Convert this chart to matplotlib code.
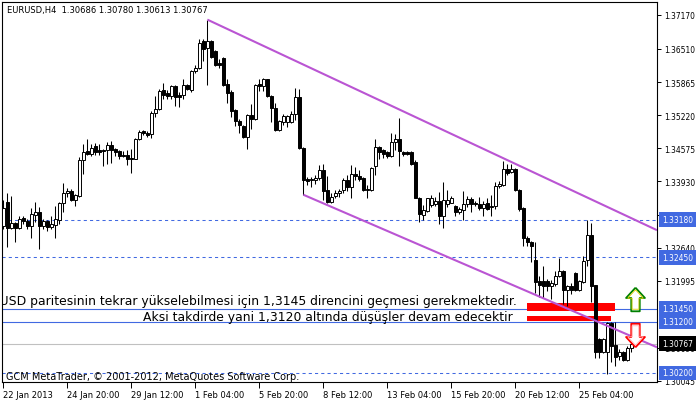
import matplotlib.pyplot as plt
from matplotlib.path import Path
from matplotlib.transforms import blended_transform_factory

# EURUSD H4 candles (bar 0 = 22 Jan 2013)
opens = [1.3307, 1.3353, 1.3302, 1.3312, 1.3302, 1.3322, 1.3316, 1.3306, 1.3328, 1.3334,
         1.3306, 1.3316, 1.3304, 1.3308, 1.3318, 1.3351, 1.3370, 1.3374, 1.3357, 1.3364,
         1.3435, 1.3452, 1.3447, 1.3462, 1.3454, 1.3454, 1.3454, 1.3464, 1.3456, 1.3452,
         1.3445, 1.3445, 1.3439, 1.3437, 1.3476, 1.3491, 1.3487, 1.3486, 1.3526, 1.3534,
         1.3571, 1.3565, 1.3559, 1.3578, 1.3561, 1.3561, 1.3580, 1.3571, 1.3608, 1.3614,
         1.3667, 1.3653, 1.3667, 1.3647, 1.3624, 1.3633, 1.3583, 1.3567, 1.3532, 1.3510,
         1.3501, 1.3480, 1.3522, 1.3514, 1.3583, 1.3579, 1.3592, 1.3559, 1.3536, 1.3493,
         1.3508, 1.3508, 1.3508, 1.3524, 1.3557, 1.3458, 1.3398, 1.3396, 1.3396, 1.3400,
         1.3415, 1.3376, 1.3353, 1.3365, 1.3371, 1.3376, 1.3396, 1.3382, 1.3408, 1.3404,
         1.3400, 1.3376, 1.3376, 1.3423, 1.3460, 1.3454, 1.3450, 1.3443, 1.3470, 1.3476,
         1.3450, 1.3450, 1.3450, 1.3431, 1.3361, 1.3328, 1.3335, 1.3347, 1.3349, 1.3355,
         1.3326, 1.3349, 1.3351, 1.3345, 1.3333, 1.3337, 1.3349, 1.3359, 1.3351, 1.3349,
         1.3341, 1.3351, 1.3343, 1.3345, 1.3384, 1.3386, 1.3417, 1.3411, 1.3417, 1.3376,
         1.3341, 1.3283, 1.3275, 1.3240, 1.3199, 1.3199, 1.3199, 1.3189, 1.3193, 1.3209,
         1.3219, 1.3182, 1.3189, 1.3215, 1.3182, 1.3197, 1.3240, 1.3289, 1.3191, 1.3086,
         1.3061, 1.3061, 1.3118, 1.3075, 1.3053, 1.3061, 1.3045, 1.30686]
highs = [1.3357, 1.3370, 1.3364, 1.3314, 1.3326, 1.3326, 1.3320, 1.3341, 1.3353, 1.3343,
         1.3320, 1.3318, 1.3326, 1.3345, 1.3353, 1.3390, 1.3380, 1.3378, 1.3368, 1.3441,
         1.3466, 1.3476, 1.3466, 1.3468, 1.3466, 1.3456, 1.3470, 1.3472, 1.3458, 1.3454,
         1.3452, 1.3454, 1.3456, 1.3478, 1.3493, 1.3493, 1.3491, 1.3530, 1.3559, 1.3573,
         1.3584, 1.3571, 1.3580, 1.3580, 1.3567, 1.3592, 1.3582, 1.3610, 1.3620, 1.3670,
         1.3670, 1.3708, 1.3669, 1.3649, 1.3631, 1.3635, 1.3592, 1.3571, 1.3534, 1.3514,
         1.3503, 1.3524, 1.3543, 1.3583, 1.3592, 1.3594, 1.3592, 1.3561, 1.3545, 1.3512,
         1.3524, 1.3522, 1.3530, 1.3575, 1.3573, 1.3460, 1.3402, 1.3402, 1.3406, 1.3425,
         1.3427, 1.3404, 1.3370, 1.3376, 1.3378, 1.3400, 1.3406, 1.3425, 1.3421, 1.3415,
         1.3402, 1.3386, 1.3421, 1.3476, 1.3462, 1.3456, 1.3452, 1.3487, 1.3485, 1.3516,
         1.3452, 1.3452, 1.3452, 1.3435, 1.3363, 1.3347, 1.3361, 1.3367, 1.3363, 1.3372,
         1.3392, 1.3376, 1.3365, 1.3347, 1.3343, 1.3374, 1.3365, 1.3363, 1.3355, 1.3363,
         1.3355, 1.3361, 1.3367, 1.3392, 1.3394, 1.3433, 1.3427, 1.3427, 1.3419, 1.3378,
         1.3343, 1.3287, 1.3277, 1.3275, 1.3209, 1.3228, 1.3203, 1.3201, 1.3219, 1.3244,
         1.3221, 1.3191, 1.3195, 1.3217, 1.3201, 1.3248, 1.3318, 1.3312, 1.3191, 1.3088,
         1.3088, 1.3120, 1.3120, 1.3120, 1.3067, 1.3063, 1.3073, 1.30780]
lows = [1.3300, 1.3265, 1.3300, 1.3275, 1.3300, 1.3310, 1.3300, 1.3283, 1.3314, 1.3261,
        1.3300, 1.3296, 1.3300, 1.3283, 1.3310, 1.3333, 1.3363, 1.3355, 1.3345, 1.3362,
        1.3408, 1.3445, 1.3443, 1.3445, 1.3445, 1.3423, 1.3427, 1.3429, 1.3443, 1.3437,
        1.3441, 1.3425, 1.3409, 1.3437, 1.3474, 1.3483, 1.3480, 1.3478, 1.3518, 1.3532,
        1.3553, 1.3553, 1.3553, 1.3540, 1.3538, 1.3553, 1.3571, 1.3567, 1.3604, 1.3612,
        1.3627, 1.3581, 1.3633, 1.3618, 1.3614, 1.3579, 1.3545, 1.3518, 1.3501, 1.3487,
        1.3478, 1.3456, 1.3495, 1.3512, 1.3569, 1.3569, 1.3557, 1.3508, 1.3491, 1.3491,
        1.3503, 1.3499, 1.3506, 1.3512, 1.3456, 1.3367, 1.3386, 1.3382, 1.3388, 1.3396,
        1.3357, 1.3351, 1.3351, 1.3361, 1.3363, 1.3370, 1.3374, 1.3361, 1.3396, 1.3394,
        1.3374, 1.3361, 1.3374, 1.3406, 1.3437, 1.3439, 1.3439, 1.3441, 1.3454, 1.3423,
        1.3443, 1.3445, 1.3425, 1.3361, 1.3314, 1.3318, 1.3333, 1.3343, 1.3345, 1.3310,
        1.3302, 1.3343, 1.3351, 1.3326, 1.3330, 1.3318, 1.3343, 1.3333, 1.3345, 1.3337,
        1.3326, 1.3337, 1.3326, 1.3339, 1.3380, 1.3384, 1.3406, 1.3409, 1.3374, 1.3335,
        1.3267, 1.3267, 1.3236, 1.3176, 1.3168, 1.3166, 1.3180, 1.3164, 1.3189, 1.3207,
        1.3154, 1.3150, 1.3174, 1.3180, 1.3180, 1.3195, 1.3228, 1.3158, 1.3049, 1.3049,
        1.3059, 1.3018, 1.3041, 1.3034, 1.3045, 1.3043, 1.3043, 1.30613]
closes = [1.3341, 1.3302, 1.3312, 1.3302, 1.3320, 1.3316, 1.3306, 1.3330, 1.3334, 1.3306,
          1.3316, 1.3304, 1.3310, 1.3320, 1.3351, 1.3370, 1.3374, 1.3357, 1.3366, 1.3435,
          1.3450, 1.3447, 1.3458, 1.3450, 1.3450, 1.3452, 1.3464, 1.3454, 1.3450, 1.3443,
          1.3443, 1.3437, 1.3437, 1.3476, 1.3490, 1.3487, 1.3484, 1.3526, 1.3534, 1.3569,
          1.3561, 1.3559, 1.3578, 1.3557, 1.3557, 1.3580, 1.3573, 1.3608, 1.3614, 1.3663,
          1.3651, 1.3667, 1.3635, 1.3620, 1.3620, 1.3581, 1.3565, 1.3530, 1.3510, 1.3503,
          1.3480, 1.3522, 1.3514, 1.3581, 1.3579, 1.3592, 1.3559, 1.3536, 1.3493, 1.3510,
          1.3520, 1.3520, 1.3524, 1.3557, 1.3458, 1.3396, 1.3394, 1.3398, 1.3400, 1.3415,
          1.3374, 1.3353, 1.3363, 1.3371, 1.3374, 1.3396, 1.3382, 1.3408, 1.3404, 1.3398,
          1.3376, 1.3378, 1.3419, 1.3460, 1.3450, 1.3447, 1.3443, 1.3470, 1.3476, 1.3452,
          1.3447, 1.3447, 1.3427, 1.3361, 1.3330, 1.3337, 1.3361, 1.3361, 1.3355, 1.3326,
          1.3357, 1.3357, 1.3361, 1.3333, 1.3339, 1.3349, 1.3359, 1.3349, 1.3349, 1.3341,
          1.3349, 1.3339, 1.3345, 1.3384, 1.3388, 1.3417, 1.3409, 1.3417, 1.3376, 1.3339,
          1.3283, 1.3275, 1.3267, 1.3197, 1.3191, 1.3189, 1.3189, 1.3195, 1.3209, 1.3219,
          1.3182, 1.3189, 1.3182, 1.3182, 1.3199, 1.3238, 1.3289, 1.3189, 1.3061, 1.3061,
          1.3086, 1.3118, 1.3073, 1.3051, 1.3061, 1.3045, 1.3069, 1.30767]

date_ticks = [0, 16, 32, 48, 64, 80, 96, 112, 128, 144]
date_labels = ["22 Jan 2013", "24 Jan 20:00", "29 Jan 12:00", "1 Feb 04:00", "5 Feb 20:00",
               "8 Feb 12:00", "13 Feb 04:00", "15 Feb 20:00", "20 Feb 12:00", "25 Feb 04:00"]
price_ticks = [1.37170, 1.36510, 1.35865, 1.35220, 1.34575, 1.33930, 1.33285,
               1.32640, 1.31995, 1.30690, 1.30045]

dashed_levels = [1.33180, 1.32450, 1.30200]
solid_levels = [1.31450, 1.31200]
bid_price = 1.30767

# channel lines: (bar, price) anchors
upper_bars, upper_prices = [51, 163.4], [1.3708, 1.3298]
lower_bars, lower_prices = [75, 163.4], [1.3367, 1.3070]

# red zones: left bar, right bar, low, high
zones = [(130.9, 152.9, 1.3141, 1.3156), (130.9, 151.9, 1.3121, 1.3131)]

up_arrow = (157.9, 1.3164)
down_arrow = (157.8, 1.3094)

line1 = "EUR/USD paritesinin tekrar yükselebilmesi için 1,3145 direncini geçmesi gerekmektedir."
line2 = "Aksi takdirde yani 1,3120 altında düşüşler devam edecektir"

plt.rcParams['font.family'] = 'DejaVu Sans'

blue = '#4169e1'
purple = '#ba55d3'

fig = plt.figure(figsize=(7, 4.02), dpi=100)
ax = fig.add_axes([2 / 700, 19 / 402, 655 / 700, 380 / 402])
ax.set_xlim(-0.33, 163.4)
ax.set_ylim(1.30024, 1.37423)

for lv in dashed_levels:
    ax.axhline(lv, color=blue, lw=0.75, ls=(0, (3, 3)), zorder=1)
for lv in solid_levels:
    ax.axhline(lv, color=blue, lw=0.8, zorder=1)
ax.axhline(bid_price, color='#c0c0c0', lw=0.8, zorder=1)

for x0, x1, lo, hi in zones:
    ax.fill_between([x0, x1], lo, hi, color='red', lw=0, zorder=2)

# candles
n = len(opens)
xs = list(range(n))
ax.vlines(xs, lows, highs, color='black', lw=0.75, zorder=3)
for i in range(n):
    o, c = opens[i], closes[i]
    fc = 'white' if c >= o else 'black'
    h = max(abs(c - o), 0.00003)
    ax.bar(i, h, bottom=min(o, c), width=0.68, color=fc, edgecolor='black',
           lw=0.7, zorder=4)

# channel
def extend(bars, prices):
    slope = (prices[1] - prices[0]) / (bars[1] - bars[0])
    xe = ax.get_xlim()[1]
    return [bars[0], xe], [prices[0], prices[0] + slope * (xe - bars[0])]

ux, uy = extend(upper_bars, upper_prices)
lx, ly = extend(lower_bars, lower_prices)
ax.plot(ux, uy, color=purple, lw=1.5, zorder=5, solid_capstyle='butt')
ax.plot(lx, ly, color=purple, lw=1.5, zorder=5, solid_capstyle='butt')

# arrows
up_path = Path([(0, 1), (0.8, 0.13), (0.36, 0.13), (0.36, -1), (-0.36, -1),
                (-0.36, 0.13), (-0.8, 0.13), (0, 1)])
down_path = Path([(x, -y) for x, y in up_path.vertices])
ax.plot(*up_arrow, marker=up_path, ms=17, mfc='white', mec='#008000', mew=1.3, zorder=6)
ax.plot(*up_arrow, marker=up_path, ms=14, mfc='none', mec='#e0d000', mew=0.6, zorder=6)
ax.plot(*down_arrow, marker=down_path, ms=17, mfc='white', mec='#ff0000', mew=1.3, zorder=6)
ax.plot(*down_arrow, marker=down_path, ms=14, mfc='none', mec='#ffb0b0', mew=0.6, zorder=6)

# comments
ax.text(128.4, 1.31602, line1, ha='right', va='center', fontsize=8.9, clip_on=True, zorder=7)
ax.text(127.4, 1.31309, line2, ha='right', va='center', fontsize=8.9, clip_on=True, zorder=7)

# axes
for s in ax.spines.values():
    s.set_linewidth(0.8)
ax.yaxis.tick_right()
ax.set_yticks(price_ticks)
ax.set_yticklabels([f"{p:.5f}" for p in price_ticks], fontstretch='condensed')
ax.tick_params(axis='y', direction='out', length=3, width=0.7, labelsize=6, pad=2)
ax.set_xticks(date_ticks)
ax.set_xticklabels(date_labels)
for lab in ax.get_xticklabels():
    lab.set_horizontalalignment('left')
ax.tick_params(axis='x', direction='out', length=4, width=0.7, labelsize=6, pad=1.5)

tr = blended_transform_factory(ax.transAxes, ax.transData)
for lv in dashed_levels + solid_levels:
    ax.text(1.0082, lv, f"{lv:.5f}", transform=tr, ha='left', va='center', fontsize=6,
            fontstretch='condensed', color='white', clip_on=False, zorder=10,
            bbox=dict(boxstyle='square,pad=0.35', fc=blue, ec='none'))
ax.text(1.0082, bid_price, f"{bid_price:.5f}", transform=tr, ha='left', va='center',
        fontsize=6, fontstretch='condensed', color='white', clip_on=False, zorder=10,
        bbox=dict(boxstyle='square,pad=0.35', fc='black', ec='none'))

fig.text(7 / 700, 1 - 11 / 402, "EURUSD,H4  1.30686 1.30780 1.30613 1.30767",
         fontsize=6, va='center')
fig.text(6 / 700, 1 - 377 / 402, "GCM MetaTrader, © 2001-2012, MetaQuotes Software Corp.",
         fontsize=7, va='center')

fig.savefig('out.png', dpi=100)
